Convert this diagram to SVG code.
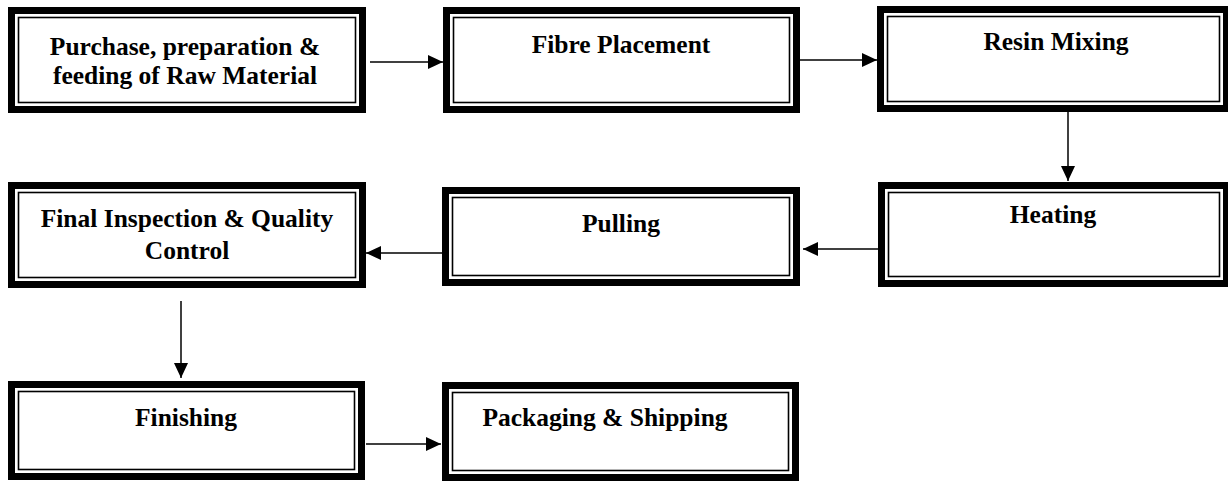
<svg xmlns="http://www.w3.org/2000/svg" width="1228" height="481" viewBox="0 0 1228 481">
<style>
.outer{fill:#fff;stroke:#000;stroke-width:7}
.inner{fill:none;stroke:#000;stroke-width:1.6}
.lbl{font-family:"Liberation Serif","Times New Roman",serif;font-weight:bold;font-size:25.5px;fill:#000;text-anchor:middle}
.conn{stroke:#000;stroke-width:1.5;fill:none;marker-end:url(#ah)}
</style>
<defs>
<marker id="ah" markerUnits="userSpaceOnUse" markerWidth="16" markerHeight="14" refX="15" refY="7" orient="auto">
<path d="M0,0 L15,7 L0,14 z" fill="#000"/>
</marker>
</defs>
<rect width="1228" height="481" fill="#fff"/>
<g id="n1">
<rect class="outer" x="11.5" y="10.5" width="351" height="99"/>
<rect class="inner" x="18.5" y="17.5" width="337" height="85"/>
<text class="lbl" x="185" y="55">Purchase, preparation &amp;</text>
<text class="lbl" x="185" y="84">feeding of Raw Material</text>
</g>
<g id="n2">
<rect class="outer" x="446.5" y="10.5" width="350" height="99"/>
<rect class="inner" x="453.5" y="17.5" width="336" height="85"/>
<text class="lbl" x="621" y="53">Fibre Placement</text>
</g>
<g id="n3">
<rect class="outer" x="880.5" y="9.5" width="346" height="99"/>
<rect class="inner" x="887.5" y="16.5" width="332" height="85"/>
<text class="lbl" x="1056" y="50">Resin Mixing</text>
</g>
<g id="n4">
<rect class="outer" x="881.5" y="185.5" width="345" height="98"/>
<rect class="inner" x="888.5" y="192.5" width="331" height="84"/>
<text class="lbl" x="1053" y="223">Heating</text>
</g>
<g id="n5">
<rect class="outer" x="11.5" y="185.5" width="351" height="99"/>
<rect class="inner" x="18.5" y="192.5" width="337" height="85"/>
<text class="lbl" x="187" y="227">Final Inspection &amp; Quality</text>
<text class="lbl" x="187" y="259">Control</text>
</g>
<g id="n6">
<rect class="outer" x="445.5" y="190.5" width="351" height="92"/>
<rect class="inner" x="452.5" y="197.5" width="337" height="78"/>
<text class="lbl" x="621" y="232">Pulling</text>
</g>
<g id="n7">
<rect class="outer" x="11.5" y="384.5" width="350" height="92"/>
<rect class="inner" x="18.5" y="391.5" width="336" height="78"/>
<text class="lbl" x="186" y="426">Finishing</text>
</g>
<g id="n8">
<rect class="outer" x="445.5" y="385.5" width="350" height="92"/>
<rect class="inner" x="452.5" y="392.5" width="336" height="78"/>
<text class="lbl" x="605" y="426">Packaging &amp; Shipping</text>
</g>
<g id="connectors">
<line class="conn" x1="370" y1="62" x2="443" y2="62"/>
<line class="conn" x1="800" y1="60" x2="877" y2="60"/>
<line class="conn" x1="1068" y1="112" x2="1068" y2="181"/>
<line class="conn" x1="878" y1="249" x2="803" y2="249"/>
<line class="conn" x1="442" y1="253" x2="366" y2="253"/>
<line class="conn" x1="181" y1="301" x2="181" y2="378"/>
<line class="conn" x1="366" y1="444" x2="441" y2="444"/>
</g>
</svg>
